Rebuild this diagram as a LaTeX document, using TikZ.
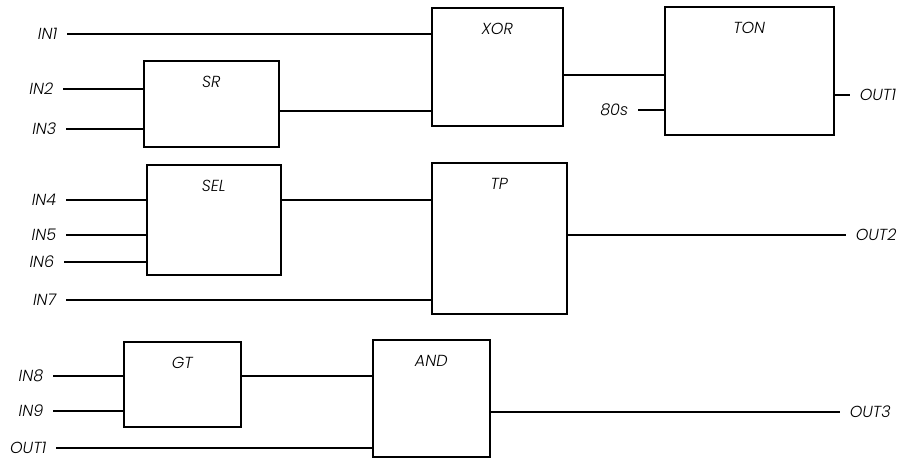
\documentclass[tikz,border=0pt]{standalone}
\usepackage{fontspec}
\setmainfont{Poppins}[ItalicFont={Poppins Light Italic}]
\begin{document}
\begin{tikzpicture}[x=1pt,y=-1pt,line width=1.5pt,
        blk/.style={draw,anchor=north west,inner sep=0pt},
        ttl/.style={font=\itshape\fontsize{16}{16}\selectfont,anchor=north,yshift=-12pt},
        lbl/.style={font=\itshape\fontsize{16}{16}\selectfont,inner xsep=9pt}]
        \useasboundingbox (0,0) rectangle (907,458);
        % blocks
        \node[blk,minimum width=135pt,minimum height=86pt] (sr) at (143,60) {};
        \node[blk,minimum width=131pt,minimum height=118pt] (xor) at (431,7) {};
        \node[blk,minimum width=169pt,minimum height=128pt] (ton) at (664,6) {};
        \node[blk,minimum width=134pt,minimum height=110pt] (sel) at (146,164) {};
        \node[blk,minimum width=135pt,minimum height=151pt] (tp) at (431,162) {};
        \node[blk,minimum width=117pt,minimum height=85pt] (gt) at (123,341) {};
        \node[blk,minimum width=117pt,minimum height=117pt] (and) at (372,339) {};
        \node[ttl] at (sr.north) {SR};
        \node[ttl] at (xor.north) {XOR};
        \node[ttl] at (ton.north) {TON};
        \node[ttl] at (sel.north) {SEL};
        \node[ttl] at (tp.north) {TP};
        \node[ttl] at (gt.north) {GT};
        \node[ttl] at (and.north) {AND};
        % inputs
        \node[lbl,left] (in1) at (67,34) {IN1};
        \node[lbl,left] (in2) at (63,89) {IN2};
        \node[lbl,left] (in3) at (66,129) {IN3};
        \node[lbl,left] (t80) at (638,110) {80s};
        \node[lbl,left] (in4) at (66,200) {IN4};
        \node[lbl,left] (in5) at (66,235) {IN5};
        \node[lbl,left] (in6) at (64,262) {IN6};
        \node[lbl,left] (in7) at (66,300) {IN7};
        \node[lbl,left] (in8) at (53,376) {IN8};
        \node[lbl,left] (in9) at (53,411) {IN9};
        \node[lbl,left] (fb1) at (56,448) {OUT1};
        % outputs
        \node[lbl,right] (out1) at (850,95) {OUT1};
        \node[lbl,right] (out2) at (846,235) {OUT2};
        \node[lbl,right] (out3) at (840,412) {OUT3};
        % wires
        \draw (in1.east) -- (in1.east -| xor.west);
        \draw (in2.east) -- (in2.east -| sr.west);
        \draw (in3.east) -- (in3.east -| sr.west);
        \draw ([yshift=-7pt]sr.east) -- ([yshift=-7pt]sr.east -| xor.west);
        \draw ([yshift=-8pt]xor.east) -- ([yshift=-8pt]xor.east -| ton.west);
        \draw (t80.east) -- (t80.east -| ton.west);
        \draw (ton.east |- out1.west) -- (out1.west);
        \draw (in4.east) -- (in4.east -| sel.west);
        \draw (in5.east) -- (in5.east -| sel.west);
        \draw (in6.east) -- (in6.east -| sel.west);
        \draw (in7.east) -- (in7.east -| tp.west);
        \draw (sel.east |- in4.east) -- (tp.west |- in4.east);
        \draw (tp.east |- out2.west) -- (out2.west);
        \draw (in8.east) -- (in8.east -| gt.west);
        \draw (in9.east) -- (in9.east -| gt.west);
        \draw (fb1.east) -- (fb1.east -| and.west);
        \draw (gt.east |- in8.east) -- (and.west |- in8.east);
        \draw (and.east |- out3.west) -- (out3.west);
\end{tikzpicture}
\end{document}
